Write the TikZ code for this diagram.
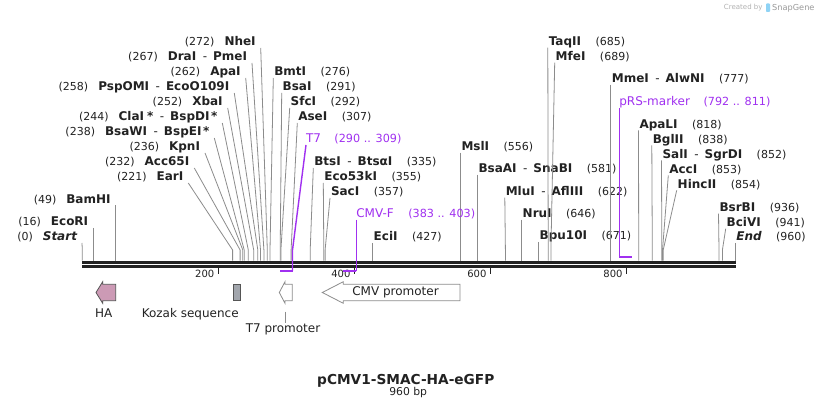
\documentclass[tikz,border=0pt]{standalone}
\usepackage{fontspec}
\setmainfont{DejaVu Sans}
\usetikzlibrary{calc}
\definecolor{siteg}{HTML}{8C8C8C}
\definecolor{prim}{HTML}{A030F0}
\definecolor{bb}{HTML}{222222}
\definecolor{hapink}{HTML}{CC9AB5}
\definecolor{kozak}{HTML}{A2A6AD}
\definecolor{featedge}{HTML}{555555}
\definecolor{logoblue}{HTML}{8FD3F5}
\newcommand\enzf{\fontsize{12}{14}\selectfont\bfseries}
\newcommand\posf{\fontsize{11}{13}\selectfont\mdseries}
\newcommand\enzhy{\hspace{6.5pt}{\mdseries-}\hspace{6pt}}
\tikzset{
  siteline/.style={draw=siteg, line width=0.8pt},
  primline/.style={draw=prim, line width=1.4pt},
  primbar/.style={draw=prim, line width=2.2pt},
  lbl/.style={inner sep=0pt, outer sep=0pt, text=bb},
  featlbl/.style={inner sep=0pt, outer sep=0pt, text=bb, font=\fontsize{12}{14}\selectfont},
  ticklbl/.style={inner sep=0pt, outer sep=0pt, text=bb, font=\fontsize{10}{12}\selectfont},
  tickmark/.style={draw=bb, line width=1.6pt},
  primlbl/.style={inner sep=0pt, outer sep=0pt, text=prim},
  featshape/.style={draw=featedge, line width=0.8pt, line join=miter},
}
% label to the left of the line: id, position, baseline y, right x, name, site x
\newcommand\mkL[6]{%
  \node[lbl, anchor=base east] (L#1) at (#4,#3) {{\posf(#2)}\hspace{10pt}{\enzf #5}};
  \coordinate (T#1) at ([shift={(5,2)}]L#1.base east);
  \coordinate (K#1) at (#6,250);
  \coordinate (S#1) at (#6,260.7);
  \draw[siteline] (T#1) -- (K#1) -- (S#1);}
% label to the right of the line: id, position, baseline y, left x, name, site x
\newcommand\mkR[6]{%
  \node[lbl, anchor=base west] (L#1) at (#4,#3) {{\enzf #5}\hspace{14.5pt}{\posf(#2)}};
  \coordinate (T#1) at ([shift={(-1,2)}]L#1.base west);
  \coordinate (K#1) at (#6,250);
  \coordinate (S#1) at (#6,260.7);
  \draw[siteline] (T#1) -- (K#1) -- (S#1);}
\begin{document}
\begin{tikzpicture}[x=1pt,y=-1pt]
\fill[white] (0,0) rectangle (818,411);
\useasboundingbox (0,0) rectangle (818,411);

% backbone
\coordinate (bbL1) at (82.3,262.35);
\coordinate (bbR1) at (736.3,262.35);
\coordinate (bbL2) at (82.3,266.8);
\coordinate (bbR2) at (736.3,266.8);
\draw[bb, line width=3.3pt] (bbL1) -- (bbR1);
\draw[bb, line width=3.0pt] (bbL2) -- (bbR2);

% ticks
\foreach \v/\x in {200/218.3,400/354.4,600/490.4,800/626.5}{
  \draw[tickmark] (\x,268.3) -- (\x,274.2);
  \node[ticklbl, anchor=base east] (tk\v) at (\x-4,277.7) {\v};
}

% left cluster
\mkL{NheI}{272}{46}{255.7}{NheI}{267.3}
\mkL{DraI}{267}{61}{247}{DraI\enzhy PmeI}{263.9}
\mkL{ApaI}{262}{76}{240.7}{ApaI}{260.5}
\mkL{PspOMI}{258}{91}{229.3}{PspOMI\enzhy EcoO109I}{257.8}
\mkL{XbaI}{252}{106}{222.7}{XbaI}{253.7}
\mkL{ClaI}{244}{121}{217.3}{ClaI\hspace{3pt}*\enzhy BspDI\hspace{1.5pt}*}{248.3}
\mkL{BsaWI}{238}{136}{209.3}{BsaWI\enzhy BspEI\hspace{1.5pt}*}{244.2}
\mkL{KpnI}{236}{151}{200}{KpnI}{242.8}
\mkL{AccSF}{232}{166}{189.3}{Acc65I}{240.1}
\mkL{EarI}{221}{181}{183.3}{EarI}{232.6}
\mkL{BamHI}{49}{203.3}{110.6}{BamHI}{115.6}
\mkL{EcoRI}{16}{226}{88.2}{EcoRI}{93.2}
\mkL{Start}{0}{241}{77}{\itshape Start}{82.3}

% right of cluster
\mkR{BmtI}{276}{76}{274.3}{BmtI}{270.0}
\mkR{BsaI}{291}{91}{282.7}{BsaI}{280.2}
\mkR{SfcI}{292}{106}{290.7}{SfcI}{280.9}
\mkR{AseI}{307}{121}{298.3}{AseI}{291.1}
\mkR{BtsI}{335}{166}{314.3}{BtsI\enzhy BtsαI}{310.2}
\mkR{EcoFT}{355}{181}{324.3}{Eco53kI}{323.8}
\mkR{SacI}{357}{196}{331}{SacI}{325.1}
\mkR{EciI}{427}{241}{373.7}{EciI}{372.7}
\mkR{MslI}{556}{150.7}{461.5}{MslI}{460.5}
\mkR{BsaAI}{581}{172.7}{478.5}{BsaAI\enzhy SnaBI}{477.5}
\mkR{MluI}{622}{195.7}{505.8}{MluI\enzhy AflIII}{505.4}
\mkR{NruI}{646}{217.7}{522.7}{NruI}{521.7}
\mkR{BpuTI}{671}{240}{539.7}{Bpu10I}{538.7}
\mkR{TaqII}{685}{45.7}{548.8}{TaqII}{548.2}
\mkR{MfeI}{689}{60.7}{555.7}{MfeI}{550.9}
\mkR{MmeI}{777}{82.7}{611.8}{MmeI\enzhy AlwNI}{610.8}
\mkR{ApaLI}{818}{128.3}{639.5}{ApaLI}{638.7}
\mkR{BglII}{838}{143.3}{652.8}{BglII}{652.3}
\mkR{SalI}{852}{158.3}{662.5}{SalI\enzhy SgrDI}{661.8}
\mkR{AccI}{853}{173.3}{669.3}{AccI}{662.5}
\mkR{HincII}{854}{188.3}{677.7}{HincII}{663.2}
\mkR{BsrBI}{936}{211.7}{719.5}{BsrBI}{719.0}
\mkR{BciVI}{941}{226.7}{726.7}{BciVI}{722.4}
\mkR{End}{960}{241}{736.3}{\itshape End}{735.3}

% primers
\node[primlbl, anchor=base west] (pT7) at (306,143) {{\fontsize{12}{14}\selectfont T7}\hspace{13.5pt}{\fontsize{11.2}{13}\selectfont(290 .. 309)}};
\coordinate (pT7t) at ([shift={(0,2)}]pT7.base west);
\coordinate (pT7k) at (292.5,250);
\coordinate (pT7b) at (292.5,270.7);
\coordinate (pT7e) at (279.6,270.7);
\draw[primline] (pT7t) -- (pT7k) -- (pT7b);
\draw[primbar] (pT7b) -- (pT7e);

\node[primlbl, anchor=base west] (pCMV) at (356.3,218) {{\fontsize{12}{14}\selectfont CMV-F}\hspace{14.5pt}{\fontsize{11.2}{13}\selectfont(383 .. 403)}};
\coordinate (pCMVt) at (356.4,220);
\coordinate (pCMVb) at (356.4,270.7);
\coordinate (pCMVe) at (342.8,270.7);
\draw[primline] (pCMVt) -- (pCMVb);
\draw[primbar] (pCMVb) -- (pCMVe);

\node[primlbl, anchor=base west] (pRS) at (619.3,106) {{\fontsize{12}{14}\selectfont pRS-marker}\hspace{13.5pt}{\fontsize{11.2}{13}\selectfont(792 .. 811)}};
\coordinate (pRSt) at (619.3,108.3);
\coordinate (pRSb) at (619.3,257.3);
\coordinate (pRSe) at (631.7,257.3);
\draw[primline] (pRSt) -- (pRSb);
\draw[primbar] (pRSb) -- (pRSe);

% features
\draw[featshape, fill=hapink] (96,292.5) -- (102.7,281.7) -- (102.7,284.3) -- (115.7,284.3) -- (115.7,300.7) -- (102.7,300.7) -- (102.7,303.3) -- cycle;
\draw[featshape, fill=kozak] (233.3,284.3) rectangle (240.7,300.7);
\draw[featshape, draw=siteg, fill=white] (279.3,292.5) -- (285,281.7) -- (285,284.3) -- (292.3,284.3) -- (292.3,300.7) -- (285,300.7) -- (285,303.3) -- cycle;
\draw[featshape, draw=siteg, fill=white] (322.3,292.5) -- (343.3,281.7) -- (343.3,284.3) -- (460,284.3) -- (460,300.7) -- (343.3,300.7) -- (343.3,303.3) -- cycle;

\node[featlbl, anchor=base] (HAlab) at (103.7,317.7) {HA};
\node[featlbl, anchor=base] (Kozlab) at (190.2,317.7) {Kozak sequence};
\node[featlbl, anchor=base] (T7plab) at (283,332.3) {T7 promoter};
\node[featlbl, anchor=base] (CMVlab) at (395.5,295.7) {CMV promoter};
\coordinate (T7pa) at (285.7,311.7);
\coordinate (T7pb) at (285.7,322.5);
\draw[siteline] (T7pa) -- (T7pb);

% title
\node[inner sep=0pt, text=bb, anchor=base, font=\fontsize{13.7}{16}\selectfont\bfseries] (title) at (405.8,384) {pCMV1-SMAC-HA-eGFP};
\node[inner sep=0pt, text=bb, anchor=base, font=\fontsize{10.8}{13}\selectfont] (size) at (408.2,395.3) {960 bp};

% credit
\node[inner sep=0pt, anchor=base east, text=black!30, font=\fontsize{7}{8}\selectfont] (cred) at (762.7,9.8) {Created by};
\fill[logoblue, rounded corners=0.8pt] (766,3.5) rectangle (770,12);
\node[inner sep=0pt, anchor=base west, text=black!40, font=\fontsize{8.2}{10}\selectfont] (sg) at (772,10.3) {SnapGene};
\end{tikzpicture}
\end{document}
